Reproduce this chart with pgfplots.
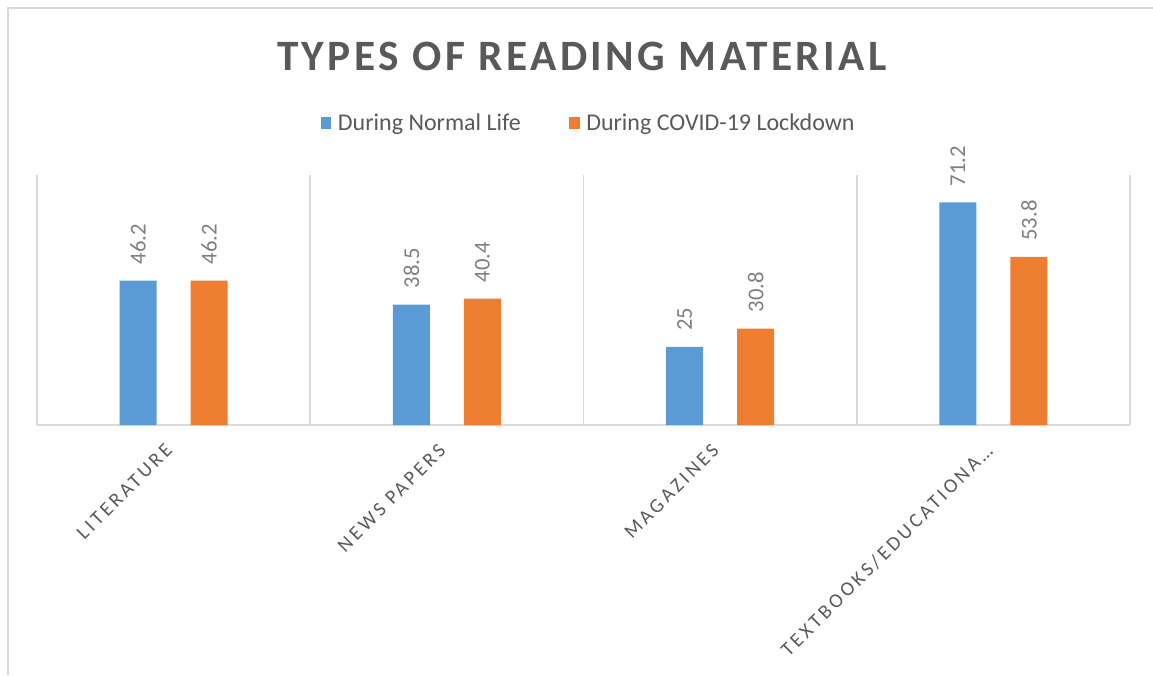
\documentclass[border=0pt]{standalone}
\usepackage{fontspec}
\setmainfont{Carlito}
\usepackage{pgfplots}
\pgfplotsset{compat=1.18}
\definecolor{cblue}{HTML}{5B9BD5}
\definecolor{corange}{HTML}{ED7D31}
\definecolor{ctext}{HTML}{595959}
\definecolor{clabel}{HTML}{7F7F7F}
\definecolor{cgrid}{HTML}{D9D9D9}
\newfontfamily\titlefont[LetterSpace=8]{Carlito}
\newfontfamily\tickfont[LetterSpace=16]{Carlito}

\begin{document}
\begin{tikzpicture}
\path[use as bounding box] (0pt,0pt) rectangle (864.75pt,506.25pt);
\draw[cgrid, line width=1.5pt] (6pt,0pt) -- (6pt,500.25pt) -- (864.75pt,500.25pt);
\node[font=\titlefont\bfseries\fontsize{32.5}{38}\selectfont, text=ctext] at (436.5pt,464.25pt) {TYPES OF READING MATERIAL};
\begin{axis}[
  at={(27.75pt,187.5pt)}, anchor=south west,
  scale only axis, width=819.75pt, height=187.5pt,
  ymin=0, ymax=80, xmin=-0.5, xmax=3.5,
  axis x line*=bottom, axis y line=none,
  x axis line style={cgrid, line width=1.5pt, -},
  xtick={0,1,2,3},
  xticklabels={LITERATURE, NEWS PAPERS, MAGAZINES, TEXTBOOKS/EDUCATIONA…},
  major tick length=0pt,
  minor xtick={-0.5,0.5,1.5,2.5,3.5},
  minor tick length=0pt,
  xminorgrids=true,
  minor x grid style={cgrid, line width=1.2pt},
  xticklabel style={xshift=-7pt, rotate=45, anchor=north east, inner sep=0pt, text=ctext, font=\tickfont\fontsize{15}{18}\selectfont},
  xticklabel shift=13pt,
  ytick=\empty,
  ybar=25.5pt, bar width=27.75pt,
  nodes near coords,
  /pgf/number format/assume math mode=true,
  every node near coord/.append style={rotate=90, anchor=west, inner xsep=12pt, inner ysep=0pt, text=clabel, font=\fontsize{17}{20}\selectfont},
  legend style={at={(0.505,1.208)}, anchor=center, draw=none, legend columns=2,
    font=\fontsize{18}{22}\selectfont, text=ctext,
    /tikz/every odd column/.append style={column sep=3pt},
    /tikz/every even column/.append style={column sep=34pt}},
  legend image code/.code={\fill[#1, draw=none] (0pt,-4.5pt) rectangle (8pt,4.5pt);},
]
\addplot[fill=cblue, draw=none] coordinates {(0,46.2) (1,38.5) (2,25) (3,71.2)};
\addplot[fill=corange, draw=none] coordinates {(0,46.2) (1,40.4) (2,30.8) (3,53.8)};
\legend{During Normal Life, During COVID-19 Lockdown}
\end{axis}
\end{tikzpicture}
\end{document}
